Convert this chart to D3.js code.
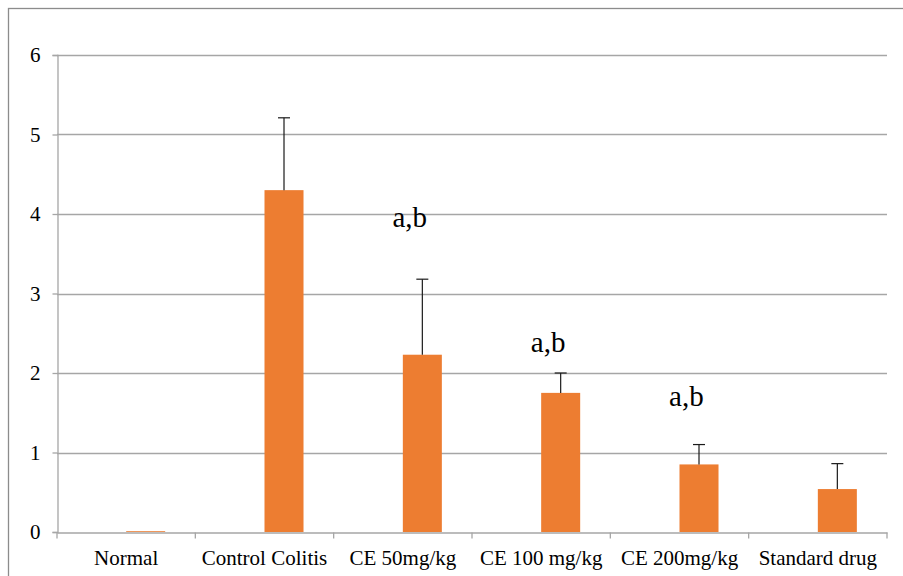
<!DOCTYPE html>
<html>
<head>
<meta charset="utf-8">
<script src="https://cdn.jsdelivr.net/npm/d3@7"></script>
<style>
	body { margin: 0; background: #fff; }
	svg { display: block; font-family: "Liberation Serif", "Times New Roman", serif; }
</style>
</head>
<body>
<div id="chart"></div>
<script>
var categories = ["Normal", "Control Colitis", "CE 50mg/kg", "CE 100 mg/kg", "CE 200mg/kg", "Standard drug"];
var means = [0.01, 4.30, 2.23, 1.75, 0.85, 0.54];
var errors = [0, 0.91, 0.95, 0.25, 0.25, 0.32];
var marks = ["", "", "a,b", "a,b", "a,b", ""];
var markLevels = [0, 0, 3.84, 2.26, 1.59, 0];
var yTicks = [0, 1, 2, 3, 4, 5, 6];

var width = 903,
	height = 576;
var margin = { top: 55, right: 16, bottom: 44, left: 57 };

var svg = d3
	.select("#chart")
	.append("svg")
	.attr("width", width)
	.attr("height", height);

// outer chart border (only top and left are visible in the picture)
svg.append("rect")
	.attr("x", 8.5)
	.attr("y", 8.5)
	.attr("width", width + 20)
	.attr("height", height + 20)
	.attr("fill", "none")
	.attr("stroke", "#8c8c8c")
	.attr("stroke-width", 1.3);

var x = d3
	.scaleBand()
	.domain(categories)
	.range([margin.left, width - margin.right]);

var y = d3
	.scaleLinear()
	.domain([0, 6])
	.range([height - margin.bottom, margin.top]);

var barWidth = x.bandwidth() * 0.282;

// gridlines
svg.append("g")
	.selectAll("line")
	.data(yTicks.filter((d) => d > 0))
	.enter()
	.append("line")
	.attr("x1", margin.left)
	.attr("x2", width - margin.right)
	.attr("y1", (d) => Math.round(y(d)) + 0.5)
	.attr("y2", (d) => Math.round(y(d)) + 0.5)
	.attr("stroke", "#a6a6a6")
	.attr("stroke-width", 1.3);

// y axis
var yAxis = svg
	.append("g")
	.attr("transform", "translate(" + (margin.left + 0.5) + ",0)")
	.call(d3.axisLeft(y).tickValues(yTicks).tickSize(5).tickPadding(12).tickFormat(d3.format("d")));
yAxis.attr("font-family", null).attr("font-size", null);
yAxis.selectAll("path, line").attr("stroke", "#a6a6a6").attr("stroke-width", 1.3);
yAxis.selectAll("text").style("font-size", "21px").attr("fill", "#000");

// x axis
var xAxis = svg
	.append("g")
	.attr("transform", "translate(0," + (Math.round(y(0)) + 0.5) + ")")
	.call(d3.axisBottom(x).tickSize(0).tickPadding(0));
xAxis.attr("font-family", null).attr("font-size", null);
xAxis.select("path").attr("stroke", "#a6a6a6").attr("stroke-width", 1.3);
xAxis.selectAll("text")
	.style("font-size", "21px")
	.attr("fill", "#000")
	.attr("y", 32)
	.attr("dy", 0);

// category boundary ticks
var bounds = categories.map((c) => x(c)).concat([x(categories[categories.length - 1]) + x.bandwidth()]);
xAxis.selectAll(".bound")
	.data(bounds)
	.enter()
	.append("line")
	.attr("class", "bound")
	.attr("x1", (d) => d)
	.attr("x2", (d) => d)
	.attr("y1", 0)
	.attr("y2", 6)
	.attr("stroke", "#a6a6a6")
	.attr("stroke-width", 1.3);

// bars (drawn as the second series of a cluster, so they sit right of centre)
svg.append("g")
	.selectAll("rect")
	.data(categories)
	.enter()
	.append("rect")
	.attr("x", (d) => x(d) + x.bandwidth() / 2)
	.attr("width", barWidth)
	.attr("y", (d, i) => y(means[i]))
	.attr("height", (d, i) => y(0) - y(means[i]))
	.attr("fill", "#ed7d31");

// error bars (upper only)
var eb = svg
	.append("g")
	.selectAll("g")
	.data(categories.filter((d, i) => errors[i] > 0))
	.enter()
	.append("g");
eb.append("line")
	.attr("x1", (d) => x(d) + x.bandwidth() / 2 + barWidth / 2)
	.attr("x2", (d) => x(d) + x.bandwidth() / 2 + barWidth / 2)
	.attr("y1", (d) => y(means[categories.indexOf(d)]))
	.attr("y2", (d) => {
		var i = categories.indexOf(d);
		return y(means[i] + errors[i]);
	})
	.attr("stroke", "#1a1a1a")
	.attr("stroke-width", 1.2);
eb.append("line")
	.attr("x1", (d) => x(d) + x.bandwidth() / 2 + barWidth / 2 - 6)
	.attr("x2", (d) => x(d) + x.bandwidth() / 2 + barWidth / 2 + 6)
	.attr("y1", (d) => {
		var i = categories.indexOf(d);
		return y(means[i] + errors[i]);
	})
	.attr("y2", (d) => {
		var i = categories.indexOf(d);
		return y(means[i] + errors[i]);
	})
	.attr("stroke", "#1a1a1a")
	.attr("stroke-width", 1.2);

// significance letters
svg.append("g")
	.selectAll("text")
	.data(categories.filter((d, i) => marks[i] !== ""))
	.enter()
	.append("text")
	.attr("x", (d) => x(d) + x.bandwidth() * 0.55)
	.attr("y", (d) => y(markLevels[categories.indexOf(d)]))
	.attr("text-anchor", "middle")
	.style("font-size", "29px")
	.attr("fill", "#000")
	.text((d) => marks[categories.indexOf(d)]);
</script>
</body>
</html>
